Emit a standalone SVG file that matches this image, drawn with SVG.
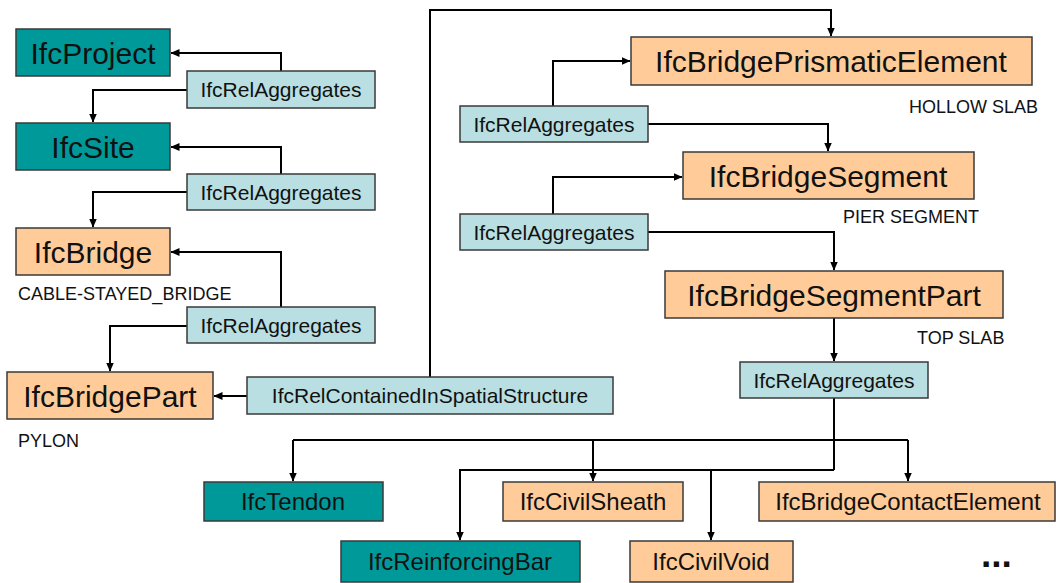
<svg xmlns="http://www.w3.org/2000/svg" width="1056" height="583" viewBox="0 0 1056 583">
<style>
.box{stroke:#3a3a3a;stroke-width:1.5}
.teal{fill:#009999}
.org{fill:#FFCC99}
.rel{fill:#B9DFE2}
text{font-family:"Liberation Sans",Arial,sans-serif;fill:#111}
.big{font-size:30px;text-anchor:middle}
.mid{font-size:24px;text-anchor:middle}
.sm{font-size:21px;text-anchor:middle}
.lbl{font-size:18px}
.conn path{fill:none;stroke:#000;stroke-width:2}
</style>
<defs>
<marker id="ah" markerUnits="userSpaceOnUse" markerWidth="9" markerHeight="8" refX="8.5" refY="4" orient="auto">
<path d="M0,0 L9,4 L0,8 z" fill="#000"/>
</marker>
</defs>
<rect width="1056" height="583" fill="#fff"/>
<g class="conn">
<path d="M281,71 V53 H171" marker-end="url(#ah)"/>
<path d="M187,90 H93 V122" marker-end="url(#ah)"/>
<path d="M281,174 V147 H171" marker-end="url(#ah)"/>
<path d="M187,192 H93 V227" marker-end="url(#ah)"/>
<path d="M281,307 V252 H171" marker-end="url(#ah)"/>
<path d="M187,326 H110 V371" marker-end="url(#ah)"/>
<path d="M247,396 H214" marker-end="url(#ah)"/>
<path d="M430,377 V10 H831 V36" marker-end="url(#ah)"/>
<path d="M553,106 V61 H630" marker-end="url(#ah)"/>
<path d="M648,124 H828 V151" marker-end="url(#ah)"/>
<path d="M553,214 V177 H682" marker-end="url(#ah)"/>
<path d="M648,232 H834 V270" marker-end="url(#ah)"/>
<path d="M834,318 V361" marker-end="url(#ah)"/>
<path d="M834,398 V470"/>
<path d="M293,440 H908"/>
<path d="M293,440 V481" marker-end="url(#ah)"/>
<path d="M593,440 V481" marker-end="url(#ah)"/>
<path d="M908,440 V481" marker-end="url(#ah)"/>
<path d="M834,470 H460 V540" marker-end="url(#ah)"/>
<path d="M711,470 V540" marker-end="url(#ah)"/>
</g>
<g id="IfcProject"><rect class="box teal" x="16" y="29" width="154" height="47"/><text class="big" x="93" y="64">IfcProject</text></g>
<g id="IfcSite"><rect class="box teal" x="16" y="123" width="154" height="47"/><text class="big" x="93" y="158">IfcSite</text></g>
<g id="IfcBridge"><rect class="box org" x="16" y="228" width="154" height="47"/><text class="big" x="93" y="263">IfcBridge</text><text class="lbl" x="18" y="300">CABLE-STAYED_BRIDGE</text></g>
<g id="IfcBridgePart"><rect class="box org" x="7" y="372" width="206" height="47"/><text class="big" x="110" y="407">IfcBridgePart</text><text class="lbl" x="18" y="447">PYLON</text></g>
<g id="rel1"><rect class="box rel" x="187" y="71" width="188" height="37"/><text class="sm" x="281" y="97">IfcRelAggregates</text></g>
<g id="rel2"><rect class="box rel" x="187" y="174" width="188" height="36"/><text class="sm" x="281" y="200">IfcRelAggregates</text></g>
<g id="rel3"><rect class="box rel" x="187" y="307" width="188" height="36"/><text class="sm" x="281" y="333">IfcRelAggregates</text></g>
<g id="relContained"><rect class="box rel" x="247" y="377" width="366" height="37"/><text class="sm" x="430" y="403">IfcRelContainedInSpatialStructure</text></g>
<g id="IfcBridgePrismaticElement"><rect class="box org" x="631" y="37" width="401" height="48"/><text class="big" x="831" y="72">IfcBridgePrismaticElement</text><text class="lbl" x="909" y="113">HOLLOW SLAB</text></g>
<g id="rel4"><rect class="box rel" x="460" y="106" width="188" height="36"/><text class="sm" x="554" y="132">IfcRelAggregates</text></g>
<g id="IfcBridgeSegment"><rect class="box org" x="683" y="152" width="291" height="47"/><text class="big" x="828" y="187">IfcBridgeSegment</text><text class="lbl" x="843" y="223">PIER SEGMENT</text></g>
<g id="rel5"><rect class="box rel" x="460" y="214" width="188" height="36"/><text class="sm" x="554" y="240">IfcRelAggregates</text></g>
<g id="IfcBridgeSegmentPart"><rect class="box org" x="665" y="271" width="338" height="47"/><text class="big" x="834" y="306">IfcBridgeSegmentPart</text><text class="lbl" x="917" y="344">TOP SLAB</text></g>
<g id="rel6"><rect class="box rel" x="740" y="362" width="188" height="36"/><text class="sm" x="834" y="388">IfcRelAggregates</text></g>
<g id="IfcTendon"><rect class="box teal" x="204" y="482" width="179" height="39"/><text class="mid" x="293" y="510">IfcTendon</text></g>
<g id="IfcCivilSheath"><rect class="box org" x="503" y="482" width="180" height="39"/><text class="mid" x="593" y="510">IfcCivilSheath</text></g>
<g id="IfcBridgeContactElement"><rect class="box org" x="759" y="482" width="296" height="39"/><text class="mid" x="908" y="510">IfcBridgeContactElement</text></g>
<g id="IfcReinforcingBar"><rect class="box teal" x="341" y="541" width="239" height="41"/><text class="mid" x="460" y="570">IfcReinforcingBar</text></g>
<g id="IfcCivilVoid"><rect class="box org" x="630" y="541" width="163" height="41"/><text class="mid" x="711" y="570">IfcCivilVoid</text></g>
<text x="981" y="567" style="font-size:37px;font-weight:bold">...</text>
</svg>
